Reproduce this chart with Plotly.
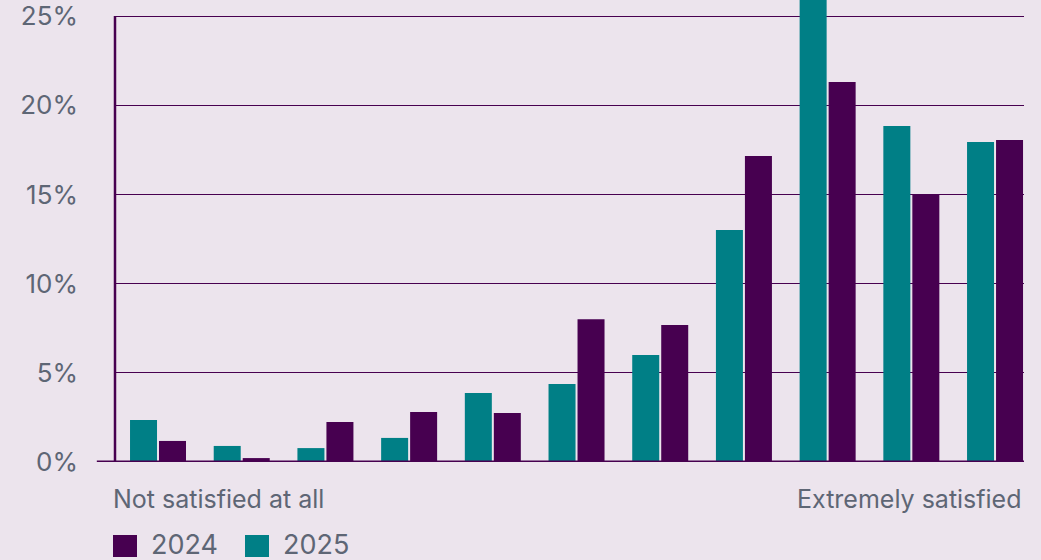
import plotly.graph_objects as go

categories = list(range(11))
values_2025 = [2.35, 0.9, 0.78, 1.35, 3.87, 4.37, 6.0, 13.0, 27.0, 18.83, 17.94]
values_2024 = [1.18, 0.22, 2.24, 2.8, 2.75, 8.0, 7.68, 17.15, 21.3, 15.02, 18.05]
tick_vals = [0, 5, 10, 15, 20, 25]
tick_text = ["0%", "5%", "10%", "15%", "20%", "25%"]
left_label = "Not satisfied at all"
right_label = "Extremely satisfied"

BG = "#ece4ed"
TEAL = "#007f86"
PURPLE = "#470050"
TEXT = "#5e6675"
FONT = "Inter"

fig = go.Figure()
fig.add_trace(go.Bar(x=categories, y=values_2025, name="2025", marker_color=TEAL,
                     marker_line_width=0, showlegend=False))
fig.add_trace(go.Bar(x=categories, y=values_2024, name="2024", marker_color=PURPLE,
                     marker_line_width=0, showlegend=False))

fig.update_layout(
    width=1041, height=560,
    margin=dict(l=115, r=17, t=0, b=98),
    paper_bgcolor=BG, plot_bgcolor=BG,
    barmode="group", bargap=0.307, bargroupgap=0.069,
    font=dict(family=FONT, color=TEXT, size=25),
    xaxis=dict(range=[-0.514, 10.346], showticklabels=False, showgrid=False,
               zeroline=False, showline=False, fixedrange=True),
    yaxis=dict(range=[0, 25.9], tickvals=tick_vals, ticktext=tick_text,
               showgrid=True, gridcolor=PURPLE, gridwidth=1, zeroline=False,
               showline=False, ticks="", ticklabelstandoff=36,
               tickfont=dict(size=26, color=TEXT, family=FONT)),
)

# y axis line (up to 25%)
fig.add_shape(type="line", xref="paper", yref="y", x0=0, x1=0, y0=0, y1=25,
              line=dict(color=PURPLE, width=2.5), layer="above")
# baseline
fig.add_shape(type="line", xref="paper", yref="y", x0=-0.02, x1=1, y0=0, y1=0,
              line=dict(color=PURPLE, width=3), layer="above")

fig.add_annotation(text=left_label, xref="paper", yref="paper", x=-0.004, y=0,
                   xanchor="left", yanchor="middle", yshift=-37, showarrow=False,
                   font=dict(size=25, color=TEXT, family=FONT))
fig.add_annotation(text=right_label, xref="paper", yref="paper", x=1, y=0,
                   xanchor="right", yanchor="middle", yshift=-37, showarrow=False,
                   font=dict(size=25, color=TEXT, family=FONT))

# manual legend
legend_items = [("2024", PURPLE, 113), ("2025", TEAL, 245)]
W = 909.0
H = 462.0
for label, color, px in legend_items:
    fig.add_shape(type="rect", xref="paper", yref="paper",
                  x0=(px - 115) / W, x1=(px + 24 - 115) / W,
                  y0=(462 - 557) / H, y1=(462 - 535) / H,
                  fillcolor=color, line_width=0)
    fig.add_annotation(text=label, xref="paper", yref="paper",
                       x=(px + 36 - 115) / W, y=(462 - 544) / H,
                       xanchor="left", yanchor="middle", showarrow=False,
                       font=dict(size=27, color=TEXT, family=FONT))

fig.write_html("out.html")
